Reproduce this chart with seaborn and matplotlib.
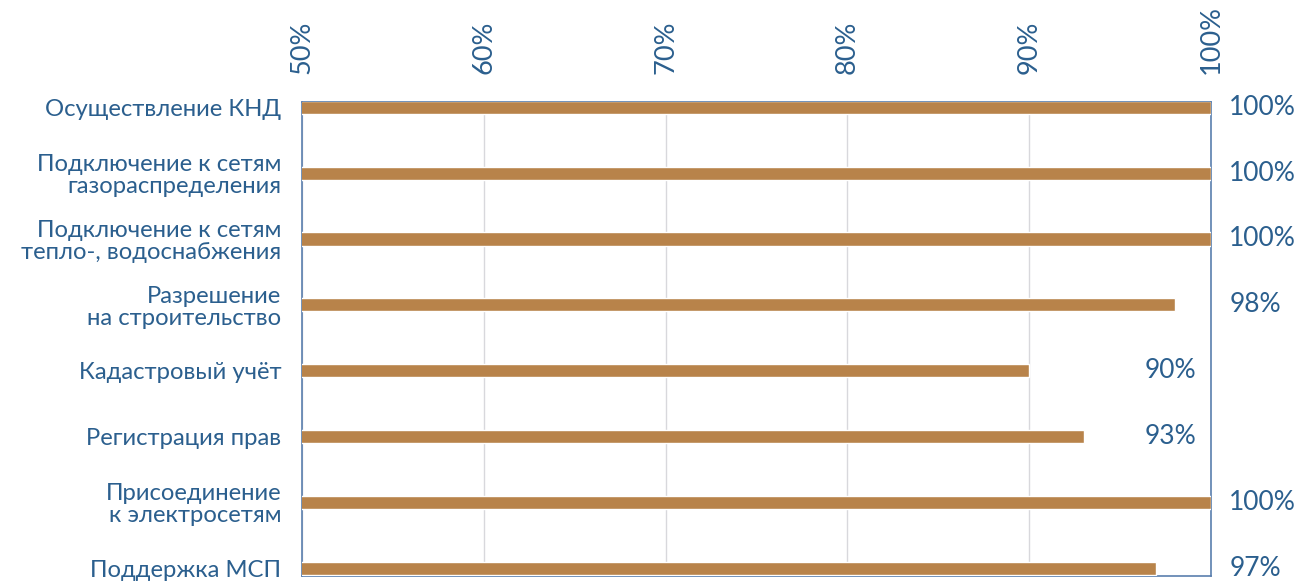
import matplotlib
matplotlib.use("Agg")
import matplotlib.pyplot as plt
import seaborn as sns
import pandas as pd
from matplotlib.ticker import FuncFormatter

# chart data
categories = [
    "Осуществление КНД",
    "Подключение к сетям\nгазораспределения",
    "Подключение к сетям\nтепло-, водоснабжения",
    "Разрешение\nна строительство",
    "Кадастровый учёт",
    "Регистрация прав",
    "Присоединение\nк электросетям",
    "Поддержка МСП",
]
values = [100, 100, 100, 98, 90, 93, 100, 97]
x_ticks = [50, 60, 70, 80, 90, 100]

BAR = "#b8834a"
TXT = "#2b5f8e"
EDGE = "#5a7fae"

sns.set_theme(style="white")
plt.rcParams["font.family"] = ["Lato", "DejaVu Sans"]

df = pd.DataFrame({"category": categories, "value": values})

fig = plt.figure(figsize=(12.98, 5.81), dpi=100)
ax = fig.add_axes([0.2327, 0.0086, 0.7003, 0.8158])

sns.barplot(data=df, y="category", x="value", color=BAR, width=0.2,
            saturation=1, ax=ax, zorder=3)

ax.set_xlim(50, 100)
ax.set_ylim(len(categories) - 1 + 0.12, -0.08)
ax.set_xticks(x_ticks)
ax.xaxis.set_major_formatter(FuncFormatter(lambda v, p: f"{v:.0f}%"))
ax.xaxis.tick_top()
ax.tick_params(axis="x", labelrotation=90, labelsize=19.5, labelcolor=TXT,
               length=0, pad=20)
ax.tick_params(axis="y", labelsize=17.2, labelcolor=TXT, length=0, pad=15)
for lab in ax.get_yticklabels():
    lab.set_horizontalalignment("right")
    lab.set_multialignment("right")
    lab.set_linespacing(1.05)
ax.set_xlabel("")
ax.set_ylabel("")

ax.grid(axis="x", color="#d8d8dc", linewidth=1, zorder=0)
for s in ax.spines.values():
    s.set_visible(True)
    s.set_color(EDGE)
    s.set_linewidth(1.2)

# value labels: short bars get the label inside the plot, others outside
for i, v in enumerate(values):
    if v < 95:
        ax.text(99.2, i, f"{v}%", ha="right", va="center", fontsize=19,
                color=TXT)
    else:
        ax.text(1.02, i, f"{v}%", ha="left", va="center", fontsize=19,
                color=TXT, transform=ax.get_yaxis_transform())

fig.savefig("out.png", dpi=100)
